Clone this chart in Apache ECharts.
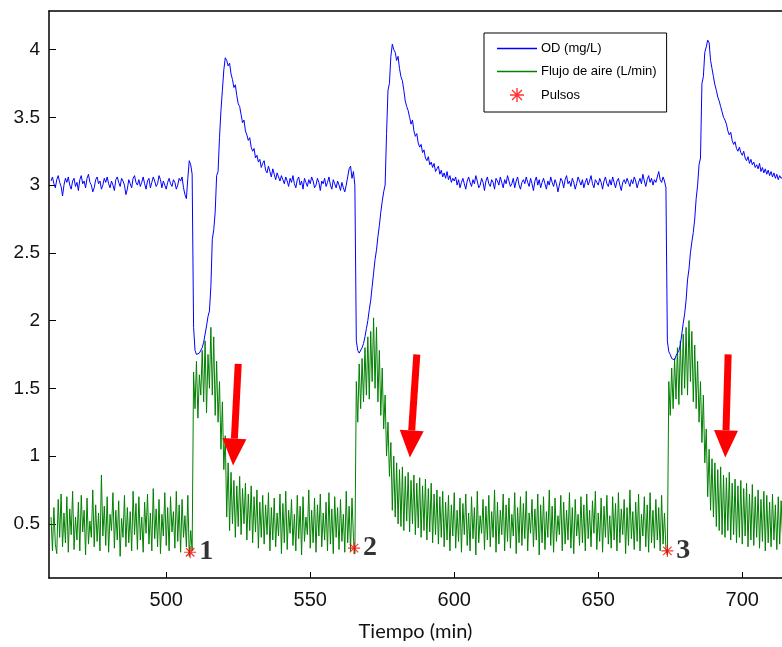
<!DOCTYPE html>
<html>
<head>
<meta charset="utf-8">
<script src="https://cdn.jsdelivr.net/npm/echarts@6/dist/echarts.min.js"></script>
<style>html,body{margin:0;padding:0;background:#fff}#c{width:782px;height:647px}</style>
</head>
<body>
<div id="c"></div>
<script>
// time axis: one sample every half minute starting at t0
var t0 = 460;
var tStep = 0.5;
var xTicks = [500, 550, 600, 650, 700];
var yTicks = [0.5, 1, 1.5, 2, 2.5, 3, 3.5, 4];

var odValues = [
  3.03,3.06,3.01,2.98,3.04,3.07,3.02,2.99,2.92,3.00,
  3.05,3.02,3.06,3.00,2.97,3.03,3.05,2.99,3.02,2.96,
  3.04,3.07,3.01,3.03,2.98,3.05,3.08,3.02,3.00,2.95,
  2.98,3.04,3.06,3.01,3.03,2.97,3.00,3.05,3.02,3.06,
  3.01,2.98,3.03,3.00,2.96,3.04,3.06,3.02,2.99,3.05,
  3.03,3.00,2.93,2.97,3.04,3.01,2.98,3.05,3.07,3.02,
  3.00,3.04,2.99,3.02,3.06,3.01,2.97,3.03,3.05,2.98,
  3.02,3.06,3.03,2.99,3.01,3.07,3.04,2.98,3.03,3.00,
  2.97,3.02,3.05,3.01,2.99,3.04,3.02,2.97,3.00,3.05,
  3.03,3.06,2.98,2.93,2.90,3.05,3.18,3.15,3.08,1.95,
  1.78,1.75,1.74,1.76,1.77,1.80,1.84,1.90,1.96,2.03,
  2.07,2.25,2.60,2.67,2.80,3.07,3.10,3.35,3.55,3.70,
  3.85,3.94,3.92,3.88,3.90,3.82,3.78,3.72,3.74,3.66,
  3.60,3.58,3.52,3.46,3.48,3.40,3.37,3.33,3.35,3.28,
  3.25,3.27,3.20,3.22,3.17,3.19,3.13,3.16,3.18,3.11,
  3.09,3.14,3.10,3.06,3.12,3.08,3.04,3.09,3.06,3.03,
  3.07,3.04,3.01,3.06,3.03,2.99,3.05,3.02,3.07,3.01,
  2.98,3.04,3.06,3.00,3.03,2.97,3.05,3.02,2.99,3.04,
  3.01,3.06,3.03,2.98,3.00,3.05,3.02,2.96,3.03,3.01,
  3.05,2.99,3.02,3.06,3.00,2.97,3.04,3.01,2.98,3.03,
  3.00,2.96,3.02,2.98,2.95,3.00,3.06,3.12,3.14,3.05,
  3.10,3.00,1.85,1.78,1.76,1.75,1.80,1.83,1.88,1.94,
  2.00,2.08,2.15,2.25,2.35,2.45,2.52,2.62,2.70,2.80,
  2.88,2.95,3.00,3.38,3.70,3.75,3.95,4.04,4.00,3.98,
  3.92,3.95,3.86,3.80,3.77,3.70,3.62,3.58,3.55,3.50,
  3.45,3.48,3.40,3.36,3.38,3.31,3.28,3.30,3.24,3.26,
  3.20,3.18,3.21,3.15,3.17,3.13,3.16,3.10,3.12,3.14,
  3.08,3.11,3.06,3.09,3.05,3.10,3.04,3.07,3.02,3.05,
  3.03,3.06,3.00,3.04,2.98,3.02,3.05,3.01,2.97,3.03,
  3.06,3.02,2.99,3.04,3.01,3.07,3.03,2.98,3.00,3.05,
  3.02,2.96,3.03,3.06,3.01,2.99,3.04,3.02,2.97,3.05,
  3.03,3.00,3.06,3.02,2.98,3.04,3.01,3.07,3.03,2.99,
  3.01,3.05,2.98,3.03,3.06,3.00,2.97,3.02,3.04,3.01,
  3.06,3.02,2.99,3.05,3.01,2.96,3.03,3.06,3.00,3.04,
  2.98,3.02,3.05,3.01,2.97,3.03,3.00,3.06,3.02,2.99,
  3.04,3.01,2.95,3.00,3.05,3.03,2.98,3.04,3.07,3.01,
  3.03,2.99,3.05,3.02,2.97,3.01,3.06,3.03,3.00,3.04,
  2.98,3.02,3.05,3.00,3.03,3.07,3.01,2.98,3.04,3.02,
  3.00,3.05,3.02,2.97,3.03,3.06,3.01,2.99,3.04,3.00,
  3.06,3.02,2.98,3.03,3.05,3.00,2.96,3.02,3.04,3.01,
  3.05,3.02,2.99,3.04,3.01,3.06,3.03,2.98,3.02,3.05,
  3.01,3.08,3.03,2.99,3.04,3.07,3.02,3.05,3.00,3.04,
  3.02,3.06,3.10,3.04,3.02,3.06,3.03,2.98,1.85,1.77,
  1.75,1.72,1.73,1.71,1.74,1.76,1.78,1.82,1.90,1.98,
  2.05,2.15,2.30,2.38,2.50,2.58,2.65,2.75,2.90,3.00,
  3.15,3.20,3.75,3.80,3.98,4.02,4.07,4.05,3.92,3.86,
  3.80,3.74,3.70,3.65,3.62,3.58,3.54,3.50,3.48,3.45,
  3.40,3.37,3.39,3.33,3.30,3.32,3.27,3.25,3.28,3.24,
  3.22,3.25,3.20,3.18,3.21,3.16,3.19,3.15,3.17,3.13,
  3.15,3.12,3.16,3.10,3.13,3.09,3.12,3.08,3.11,3.07,
  3.10,3.06,3.09,3.05,3.08,3.04,3.07,3.05,3.06
];

var airValues = [
  0.55,0.30,0.62,0.35,0.28,0.68,0.40,0.72,0.33,0.58,
  0.36,0.70,0.29,0.61,0.42,0.74,0.31,0.55,0.38,0.66,
  0.30,0.71,0.44,0.60,0.27,0.69,0.35,0.52,0.40,0.75,
  0.33,0.64,0.37,0.58,0.30,0.86,0.41,0.63,0.34,0.70,
  0.29,0.57,0.45,0.73,0.32,0.60,0.38,0.67,0.26,0.54,
  0.40,0.71,0.33,0.62,0.36,0.59,0.30,0.74,0.42,0.65,
  0.31,0.70,0.38,0.55,0.29,0.66,0.43,0.72,0.35,0.58,
  0.30,0.76,0.39,0.61,0.33,0.68,0.28,0.57,0.41,0.73,
  0.34,0.62,0.30,0.70,0.44,0.59,0.32,0.74,0.37,0.64,
  0.29,0.68,0.40,0.56,0.33,0.71,0.26,0.45,0.30,1.62,
  1.35,1.70,1.28,1.60,1.45,1.78,1.40,1.85,1.32,1.75,
  1.50,1.95,1.45,1.88,1.30,1.70,1.25,1.55,1.05,1.40,
  0.90,1.15,0.55,0.95,0.45,0.88,0.50,0.82,0.40,0.78,
  0.48,0.85,0.42,0.76,0.50,0.80,0.38,0.72,0.45,0.78,
  0.36,0.70,0.44,0.75,0.32,0.66,0.40,0.71,0.35,0.64,
  0.42,0.73,0.30,0.62,0.38,0.69,0.33,0.58,0.41,0.72,
  0.28,0.65,0.36,0.74,0.31,0.60,0.43,0.68,0.34,0.57,
  0.30,0.71,0.39,0.63,0.27,0.70,0.37,0.55,0.42,0.75,
  0.32,0.60,0.36,0.69,0.29,0.64,0.41,0.72,0.33,0.58,
  0.38,0.66,0.30,0.73,0.35,0.61,0.28,0.70,0.40,0.62,
  0.31,0.68,0.37,0.57,0.29,0.74,0.36,0.63,0.30,0.69,
  0.40,0.28,1.55,1.25,1.68,1.35,1.72,1.40,1.80,1.45,
  1.88,1.42,1.92,1.55,2.02,1.50,1.95,1.40,1.78,1.30,
  1.65,1.20,1.45,1.00,1.25,0.85,1.10,0.60,1.00,0.55,
  0.95,0.50,0.90,0.48,0.92,0.45,0.85,0.52,0.88,0.44,
  0.82,0.50,0.86,0.42,0.80,0.47,0.84,0.40,0.78,0.45,
  0.83,0.38,0.76,0.44,0.80,0.36,0.72,0.42,0.75,0.35,
  0.70,0.40,0.74,0.33,0.66,0.38,0.71,0.30,0.64,0.41,
  0.73,0.32,0.60,0.37,0.69,0.29,0.65,0.42,0.72,0.34,
  0.58,0.30,0.70,0.39,0.62,0.27,0.74,0.36,0.56,0.43,
  0.68,0.31,0.63,0.38,0.71,0.33,0.59,0.40,0.75,0.29,
  0.66,0.35,0.60,0.42,0.72,0.30,0.64,0.37,0.69,0.32,
  0.57,0.41,0.73,0.28,0.62,0.36,0.70,0.34,0.65,0.39,
  0.74,0.30,0.58,0.43,0.68,0.33,0.61,0.38,0.72,0.27,
  0.64,0.36,0.70,0.31,0.59,0.40,0.75,0.34,0.63,0.29,
  0.69,0.37,0.56,0.42,0.71,0.30,0.66,0.35,0.60,0.38,
  0.73,0.32,0.62,0.28,0.68,0.41,0.57,0.34,0.70,0.36,
  0.64,0.30,0.72,0.39,0.60,0.33,0.67,0.43,0.74,0.31,
  0.58,0.37,0.69,0.29,0.63,0.40,0.71,0.35,0.56,0.32,
  0.70,0.38,0.65,0.30,0.73,0.36,0.61,0.42,0.68,0.28,
  0.62,0.34,0.75,0.39,0.59,0.31,0.66,0.37,0.72,0.30,
  0.57,0.41,0.70,0.33,0.64,0.29,0.73,0.36,0.60,0.32,
  0.68,0.38,0.62,0.30,0.71,0.35,0.58,0.31,0.27,1.55,
  1.30,1.65,1.35,1.72,1.42,1.80,1.38,1.85,1.45,1.90,
  1.50,1.95,1.45,2.00,1.55,1.92,1.40,1.82,1.35,1.70,
  1.25,1.55,1.10,1.45,0.95,1.20,0.70,1.05,0.60,0.98,
  0.55,0.95,0.48,0.90,0.45,0.92,0.42,0.86,0.40,0.84,
  0.45,0.88,0.38,0.80,0.42,0.83,0.36,0.78,0.40,0.82,
  0.35,0.76,0.41,0.80,0.33,0.72,0.38,0.79,0.34,0.70,
  0.40,0.75,0.32,0.68,0.37,0.74,0.30,0.71,0.36,0.66,
  0.33,0.72,0.38,0.64,0.31,0.70,0.35,0.67,0.40
];

var pulseTimes = [508.3, 565.2, 674.0];
var pulseValues = [0.29, 0.32, 0.30];
var pulseLabels = ['1', '2', '3'];

// annotation arrows: [xStart, yStart, xTip, yTip]
var arrows = [
  [525.0, 1.68, 523.2, 0.93],
  [587.0, 1.75, 584.6, 0.99],
  [695.1, 1.75, 694.1, 0.99]
];

var seriesNames = ['OD (mg/L)', 'Flujo de aire (L/min)', 'Pulsos'];
var seriesColors = ['#0000ff', '#008000', '#ff0000'];

function pairs(vals) {
  var out = [];
  for (var i = 0; i < vals.length; i++) out.push([t0 + i * tStep, vals[i]]);
  return out;
}
var pulseData = pulseTimes.map(function (t, i) { return [t, pulseValues[i]]; });

var asterisk = 'path://M0,9L20,9L20,11L0,11Z M9,0L11,0L11,20L9,20Z M2.2,3.6L3.6,2.2L17.8,16.4L16.4,17.8Z M16.4,2.2L17.8,3.6L3.6,17.8L2.2,16.4Z';
var lineIcon = 'path://M0,0L40,0L40,1.3L0,1.3Z';

var chart = echarts.init(document.getElementById('c'), null, {renderer: 'canvas'});
chart.setOption({
  animation: false,
  backgroundColor: '#fff',
  grid: {left: 49, right: 0, top: 11, bottom: 67, containLabel: false},
  legend: {
    orient: 'vertical',
    left: 484, top: 33,
    padding: [9, 10, 10, 13],
    itemWidth: 40, itemHeight: 14, itemGap: 10,
    backgroundColor: '#fff',
    borderColor: '#000', borderWidth: 1,
    textStyle: {fontFamily: 'Liberation Sans', fontSize: 13, color: '#000', padding: [0, 0, 0, -1]},
    data: [
      {name: seriesNames[0], icon: lineIcon, itemStyle: {color: seriesColors[0], borderWidth: 0}},
      {name: seriesNames[1], icon: lineIcon, itemStyle: {color: seriesColors[1], borderWidth: 0}},
      {name: seriesNames[2], icon: asterisk, itemStyle: {color: seriesColors[2], borderWidth: 0}}
    ]
  },
  xAxis: [{
    type: 'value', min: 459.3, max: 713.8, position: 'bottom',
    name: 'Tiempo (min)', nameLocation: 'middle', nameGap: 44,
    nameTextStyle: {fontFamily: 'Lato', fontSize: 20, color: '#111'},
    axisLine: {show: true, onZero: false, lineStyle: {color: '#000', width: 1.5}},
    axisTick: {show: true, inside: true, length: 6, customValues: xTicks, lineStyle: {color: '#000'}},
    axisLabel: {customValues: xTicks, margin: 12, fontFamily: 'Liberation Sans', fontSize: 20, color: '#111'},
    splitLine: {show: false}
  }, {
    type: 'value', min: 459.3, max: 713.8, position: 'top',
    axisLine: {show: true, onZero: false, lineStyle: {color: '#000', width: 1.5}},
    axisTick: {show: false}, axisLabel: {show: false}, splitLine: {show: false}
  }],
  yAxis: {
    type: 'value', min: 0.1, max: 4.285,
    axisLine: {show: true, onZero: false, lineStyle: {color: '#000', width: 1.5}},
    axisTick: {show: true, inside: true, length: 7, customValues: yTicks, lineStyle: {color: '#000'}},
    axisLabel: {customValues: yTicks, margin: 9, fontFamily: 'Liberation Sans', fontSize: 19, color: '#111'},
    splitLine: {show: false}
  },
  series: [
    {
      name: seriesNames[0], type: 'line', data: pairs(odValues),
      symbol: 'none', lineStyle: {color: seriesColors[0], width: 1}, itemStyle: {color: seriesColors[0]}, z: 3
    },
    {
      name: seriesNames[1], type: 'line', data: pairs(airValues),
      symbol: 'none', lineStyle: {color: seriesColors[1], width: 1}, itemStyle: {color: seriesColors[1]}, z: 2
    },
    {
      name: seriesNames[2], type: 'scatter', data: pulseData,
      symbol: asterisk, symbolSize: 12, itemStyle: {color: seriesColors[2]}, z: 5,
      label: {
        show: true, position: 'right', distance: 3,
        formatter: function (p) { return pulseLabels[p.dataIndex]; },
        fontFamily: 'Liberation Serif', fontWeight: 'bold', fontSize: 28, color: '#000'
      }
    },
    {
      type: 'custom', data: arrows, z: 6,
      encode: {x: [0, 2], y: [1, 3]},
      renderItem: function (params, api) {
        var p1 = api.coord([api.value(0), api.value(1)]);
        var p2 = api.coord([api.value(2), api.value(3)]);
        var dx = p2[0] - p1[0], dy = p2[1] - p1[1];
        var len = Math.sqrt(dx * dx + dy * dy);
        var ux = dx / len, uy = dy / len;
        var nx = -uy, ny = ux;
        var headLen = 27, headW = 12, shaftW = 3.5;
        var bx = p2[0] - ux * headLen, by = p2[1] - uy * headLen;
        return {
          type: 'group',
          children: [
            {type: 'polygon', shape: {points: [
              [p1[0] + nx * shaftW, p1[1] + ny * shaftW],
              [bx + nx * shaftW, by + ny * shaftW],
              [bx - nx * shaftW, by - ny * shaftW],
              [p1[0] - nx * shaftW, p1[1] - ny * shaftW]
            ]}, style: {fill: '#ff0000'}},
            {type: 'polygon', shape: {points: [
              [bx + nx * headW, by + ny * headW],
              [p2[0], p2[1]],
              [bx - nx * headW, by - ny * headW]
            ]}, style: {fill: '#ff0000'}}
          ]
        };
      }
    }
  ]
});
</script>
</body>
</html>
